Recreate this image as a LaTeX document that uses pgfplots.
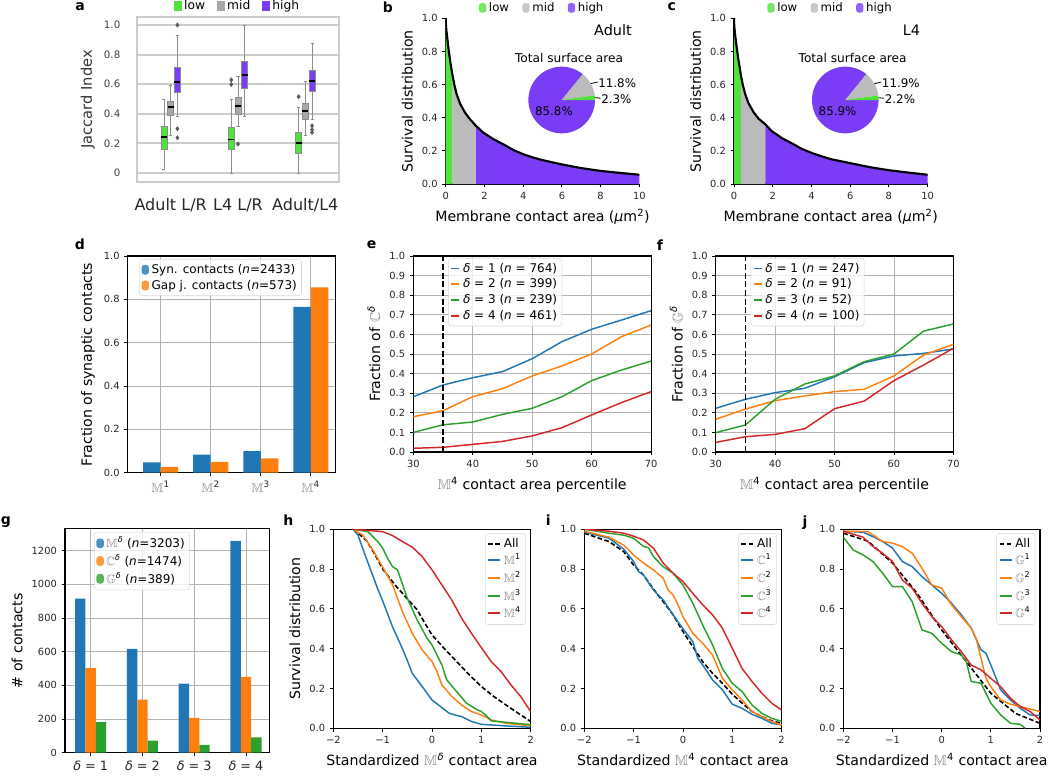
\documentclass[border=0pt]{standalone}
\usepackage{amssymb}
\usepackage{fontspec}
\setmainfont{DejaVu Sans}
\usepackage{pgfplots}
\pgfplotsset{compat=1.18}
\usepgfplotslibrary{statistics}

\definecolor{lowc}{RGB}{78,228,60}
\definecolor{midc}{RGB}{187,187,187}
\definecolor{midca}{RGB}{168,168,168}
\definecolor{highc}{RGB}{123,60,245}
\definecolor{tb}{RGB}{31,119,180}
\definecolor{to}{RGB}{255,127,14}
\definecolor{tg}{RGB}{44,160,44}
\definecolor{tr}{RGB}{214,39,40}

\newcommand{\bb}[1]{\textcolor{black!50}{$\mathbb{#1}$}}
\newcommand{\dl}{\textit{δ}}
\newcommand{\ticksz}{\fontsize{7.4}{8.5}\selectfont}
\newcommand{\labsz}{\fontsize{10.6}{12}\selectfont}
\newcommand{\legsz}{\fontsize{9}{10.5}\selectfont}
\newcommand{\panel}[3]{\node[font=\fontsize{10.5}{12}\selectfont\bfseries] at (#1*0.75pt,-#2*0.75pt) {#3};}

\pgfplotsset{
  sqleg/.style={legend image code/.code={\fill (0pt,-3.6pt) rectangle (5.5pt,3.6pt);}},
  lnleg/.style={legend image code/.code={\draw[line width=1.4pt] (0pt,0pt) -- (#1,0pt);}},
  mpl/.style={
    scale only axis, anchor=south west,
    tick align=outside, tick pos=left,
    major tick length=2.6pt,
    every tick/.style={black, line width=0.6pt},
    axis line style={line width=0.8pt},
    tick label style={font=\ticksz, text=black!85},
    label style={font=\labsz},
    /pgf/number format/assume math mode=true,
    legend style={font=\legsz, draw=black!15, rounded corners=2pt, fill=white, fill opacity=0.8, text opacity=1, inner sep=1.5pt, row sep=-0.5pt},
    legend cell align=left,
    grid style={black!30, line width=0.6pt},
  },
  yfix/.style={yticklabel style={/pgf/number format/.cd, fixed, fixed zerofill, precision=1}},
  bxs/.style={forget plot, mark=diamond*, mark size=1.5pt, mark options={fill=black!65, draw=black!65}, draw=black!45, line width=0.5pt, boxplot/every median/.style={black, line width=1.2pt}, boxplot/box extend=0.09, boxplot/whisker extend=0.045},
  bl/.style={bxs, boxplot/every box/.style={fill=lowc, draw=black!45}},
  bm/.style={bxs, boxplot/every box/.style={fill=midca, draw=black!45}},
  bh/.style={bxs, boxplot/every box/.style={fill=highc, draw=black!45}},
}

\newcommand{\pie}[5]{%
  \pgfmathsetmacro\aL{#3*3.6}\pgfmathsetmacro\aM{(#3+#4)*3.6}\pgfmathsetmacro\aLh{#3*1.8}\pgfmathsetmacro\aMh{(#3+#3+#4)*1.8}%
  \begin{scope}[shift={(#1*0.75pt,-#2*0.75pt)}]
    \fill[highc] (0,0) -- (\aM:25pt) arc[start angle=\aM, end angle=360, radius=25pt] -- cycle;
    \fill[midc] (0,0) -- (\aL:25pt) arc[start angle=\aL, end angle=\aM, radius=25pt] -- cycle;
    \fill[lowc] (0,0) -- (0:25pt) arc[start angle=0, end angle=\aL, radius=25pt] -- cycle;
    \draw[line width=0.6pt] (\aMh:25pt) -- (27pt,13.5pt);
    \draw[line width=0.6pt] (\aLh:25pt) -- (29.2pt,1.3pt);
    \node[anchor=west, inner sep=0pt, font=\fontsize{8.9}{10}\selectfont] at (27.3pt,12.8pt) {#4\%};
    \node[anchor=west, inner sep=0pt, font=\fontsize{8.9}{10}\selectfont] at (29.5pt,0.9pt) {#3\%};
    \node[font=\fontsize{8.9}{10}\selectfont] at (-5.8pt,-8.3pt) {#5\%};
    \node[font=\fontsize{9.1}{10}\selectfont] at (5.5pt,31.5pt) {Total surface area};
  \end{scope}}

\pgfplotstableread{
x y
0 1.0
0.01 0.96
0.03 0.93
0.05 0.91
0.1 0.86
0.15 0.81
0.22 0.75
0.3 0.69
0.36 0.65
0.45 0.595
0.57 0.54
0.74 0.485
1.0 0.43
1.26 0.39
1.57 0.35
1.94 0.31
2.5 0.268
3.0 0.238
3.5 0.205
4.0 0.18
4.5 0.16
5.0 0.144
6.0 0.118
7.0 0.096
8.0 0.079
9.0 0.067
10.0 0.056
}\survA

\pgfplotstableread{
x y
0 1.0
0.01 0.96
0.03 0.93
0.05 0.91
0.1 0.86
0.15 0.815
0.22 0.755
0.3 0.70
0.35 0.66
0.45 0.60
0.57 0.545
0.74 0.49
1.0 0.435
1.26 0.395
1.62 0.36
1.94 0.32
2.5 0.275
3.0 0.245
3.5 0.212
4.0 0.188
4.5 0.168
5.0 0.15
6.0 0.126
7.0 0.102
8.0 0.083
9.0 0.069
10.0 0.056
}\survB

\begin{document}
\begin{tikzpicture}
\useasboundingbox (0,0) rectangle (787.5pt,-584.25pt);

% ---------------- a ----------------
\begin{axis}[at={(102.75pt,-136.5pt)}, anchor=south west, scale only axis, width=151.5pt, height=123.75pt,
  xmin=-0.5, xmax=2.5, ymin=-0.061, ymax=1.054,
  xtick={0,1,2}, xticklabels={Adult L/R, L4 L/R, Adult/L4},
  ytick={0,0.2,0.4,0.6,0.8,1.0}, yticklabels={0,0.2,0.4,0.6,0.8,1.0},
  major tick length=0pt,
  axis line style={draw=black!20, line width=1.8pt},
  ymajorgrids, grid style={black!20, line width=1.4pt},
  xticklabel style={font=\fontsize{12}{13}\selectfont, text=black!85, yshift=-9pt},
  yticklabel style={font=\fontsize{7.7}{9}\selectfont, text=black!75, xshift=-9pt},
  ylabel={Jaccard Index}, ylabel style={font=\fontsize{11}{12}\selectfont, text=black!80},
  legend style={at={(0.5,1.0)}, anchor=south, draw=none, fill=none, legend columns=3, font=\fontsize{9.2}{10}\selectfont, /tikz/every even column/.append style={column sep=7pt}},
  sqleg, boxplot/draw direction=y]
\addlegendimage{fill=lowc, draw=none}\addlegendentry{low}
\addlegendimage{fill=midca, draw=none}\addlegendentry{mid}
\addlegendimage{fill=highc, draw=none}\addlegendentry{high}
% Adult L/R
\addplot[bl, boxplot prepared={draw position=-0.1, lower whisker=0.027, lower quartile=0.162, median=0.243, upper quartile=0.315, upper whisker=0.499}] coordinates {};
\addplot[bm, boxplot prepared={draw position=0, lower whisker=0.254, lower quartile=0.391, median=0.447, upper quartile=0.485, upper whisker=0.593}] coordinates {};
\addplot[bh, boxplot prepared={draw position=0.1, lower whisker=0.382, lower quartile=0.548, median=0.616, upper quartile=0.712, upper whisker=0.933}] table[row sep=\\, y index=0] {v\\ 1.0\\ 0.299\\ 0.238\\};
% L4 L/R
\addplot[bl, boxplot prepared={draw position=0.9, lower whisker=0, lower quartile=0.157, median=0.225, upper quartile=0.310, upper whisker=0.499}] table[row sep=\\, y index=0] {v\\ 0.629\\ 0.598\\};
\addplot[bm, boxplot prepared={draw position=1.0, lower whisker=0.315, lower quartile=0.393, median=0.454, upper quartile=0.512, upper whisker=0.654}] table[row sep=\\, y index=0] {v\\ 0.196\\};
\addplot[bh, boxplot prepared={draw position=1.1, lower whisker=0.382, lower quartile=0.573, median=0.661, upper quartile=0.753, upper whisker=1.0}] coordinates {};
% Adult/L4
\addplot[bl, boxplot prepared={draw position=1.9, lower whisker=0, lower quartile=0.130, median=0.202, upper quartile=0.276, upper whisker=0.445}] table[row sep=\\, y index=0] {v\\ 0.515\\};
\addplot[bm, boxplot prepared={draw position=2.0, lower whisker=0.252, lower quartile=0.360, median=0.418, upper quartile=0.474, upper whisker=0.622}] coordinates {};
\addplot[bh, boxplot prepared={draw position=2.1, lower whisker=0.364, lower quartile=0.555, median=0.622, upper quartile=0.697, upper whisker=0.876}] table[row sep=\\, y index=0] {v\\ 0.319\\ 0.292\\ 0.274\\};
\end{axis}

% ---------------- b ----------------
\begin{axis}[mpl, at={(334.3pt,-138pt)}, width=145.2pt, height=124.3pt,
  xmin=0, xmax=10, ymin=0, ymax=1,
  axis x line*=bottom, axis y line*=left, axis line style={-, line width=1.1pt},
  xtick={0,2,4,6,8,10}, ytick={0,0.2,0.4,0.6,0.8,1}, yfix,
  xlabel={Membrane contact area (\textit{μ}m\textsuperscript{2})}, ylabel={Survival distribution},
  legend style={at={(0.5,1.0)}, anchor=south, draw=none, fill=none, legend columns=3, font=\fontsize{8.8}{10}\selectfont, /tikz/every even column/.append style={column sep=8pt}},
  sqleg]
\addlegendimage{fill=lowc, draw=none}\addlegendentry{low}
\addlegendimage{fill=midc, draw=none}\addlegendentry{mid}
\addlegendimage{fill=highc, draw=none}\addlegendentry{high}
\addplot[fill=lowc, draw=none, forget plot, restrict x to domain=0:0.3601] table {\survA} \closedcycle;
\addplot[fill=midc, draw=none, forget plot, restrict x to domain=0.3599:1.5701] table {\survA} \closedcycle;
\addplot[fill=highc, draw=none, forget plot, restrict x to domain=1.5699:10] table {\survA} \closedcycle;
\addplot[black, line width=1.6pt, forget plot] table {\survA};
\node[anchor=north east, font=\fontsize{10.8}{12}\selectfont] at (rel axis cs:0.985,0.99) {Adult};
\end{axis}
\pie{561.7}{100}{2.3}{11.8}{85.8}

% ---------------- c ----------------
\begin{axis}[mpl, at={(550.5pt,-138pt)}, width=145.2pt, height=124.3pt,
  xmin=0, xmax=10, ymin=0, ymax=1,
  axis x line*=bottom, axis y line*=left, axis line style={-, line width=1.1pt},
  xtick={0,2,4,6,8,10}, ytick={0,0.2,0.4,0.6,0.8,1}, yfix,
  xlabel={Membrane contact area (\textit{μ}m\textsuperscript{2})}, ylabel={Survival distribution},
  legend style={at={(0.5,1.0)}, anchor=south, draw=none, fill=none, legend columns=3, font=\fontsize{8.8}{10}\selectfont, /tikz/every even column/.append style={column sep=8pt}},
  sqleg]
\addlegendimage{fill=lowc, draw=none}\addlegendentry{low}
\addlegendimage{fill=midc, draw=none}\addlegendentry{mid}
\addlegendimage{fill=highc, draw=none}\addlegendentry{high}
\addplot[fill=lowc, draw=none, forget plot, restrict x to domain=0:0.3501] table {\survB} \closedcycle;
\addplot[fill=midc, draw=none, forget plot, restrict x to domain=0.3499:1.6201] table {\survB} \closedcycle;
\addplot[fill=highc, draw=none, forget plot, restrict x to domain=1.6199:10] table {\survB} \closedcycle;
\addplot[black, line width=1.6pt, forget plot] table {\survB};
\node[anchor=north east, font=\fontsize{10.8}{12}\selectfont] at (rel axis cs:0.985,0.99) {L4};
\end{axis}
\pie{845.3}{100}{2.2}{11.9}{85.9}

% ---------------- d ----------------
\begin{axis}[mpl, at={(95.8pt,-354.5pt)}, width=155.5pt, height=162.5pt,
  xmin=-0.66, xmax=3.486, ymin=0, ymax=1,
  xtick={0,1,2,3}, xticklabels={{\bb{M}\textsuperscript{1}},{\bb{M}\textsuperscript{2}},{\bb{M}\textsuperscript{3}},{\bb{M}\textsuperscript{4}}},
  xticklabel style={font=\fontsize{9.5}{10}\selectfont},
  ytick={0,0.2,0.4,0.6,0.8,1}, yfix, grid=major,
  ylabel={Fraction of synaptic contacts},
  legend style={at={(0.056,0.985)}, anchor=north west}]
\addplot[ybar, bar width=0.35, bar shift=-0.175, fill=tb, draw=none, sqleg] coordinates {(0,0.048)(1,0.083)(2,0.100)(3,0.765)};
\addlegendentry{Syn. contacts (\textit{n}=2433)}
\addplot[ybar, bar width=0.35, bar shift=0.175, fill=to, draw=none, sqleg] coordinates {(0,0.027)(1,0.050)(2,0.066)(3,0.855)};
\addlegendentry{Gap j. contacts (\textit{n}=573)}
\end{axis}

% ---------------- e ----------------
\begin{axis}[mpl, at={(310pt,-339pt)}, width=178.3pt, height=147pt,
  xmin=30, xmax=70, ymin=0, ymax=1, xtick={30,40,50,60,70},
  ytick={0,0.1,0.2,0.3,0.4,0.5,0.6,0.7,0.8,0.9,1}, yfix, grid=major,
  xlabel={\bb{M}\textsuperscript{4} contact area percentile}, ylabel={Fraction of \bb{C}\textsuperscript{\dl}},
  legend style={at={(0.147,0.99)}, anchor=north west}, lnleg=6pt]
\addplot[tb, line width=1.1pt] coordinates {(30,0.282)(35,0.342)(40,0.379)(45,0.41)(50,0.476)(55,0.563)(60,0.626)(65,0.673)(70,0.721)};
\addlegendentry{\dl{} = 1 (\textit{n} = 764)}
\addplot[to, line width=1.1pt] coordinates {(30,0.18)(35,0.211)(40,0.282)(45,0.323)(50,0.388)(55,0.439)(60,0.5)(65,0.588)(70,0.648)};
\addlegendentry{\dl{} = 2 (\textit{n} = 399)}
\addplot[tg, line width=1.1pt] coordinates {(30,0.10)(35,0.139)(40,0.153)(45,0.192)(50,0.223)(55,0.282)(60,0.364)(65,0.418)(70,0.464)};
\addlegendentry{\dl{} = 3 (\textit{n} = 239)}
\addplot[tr, line width=1.1pt] coordinates {(30,0.019)(35,0.024)(40,0.039)(45,0.054)(50,0.082)(55,0.124)(60,0.189)(65,0.252)(70,0.308)};
\addlegendentry{\dl{} = 4 (\textit{n} = 461)}
\addplot[black, line width=1.2pt, dash pattern=on 4.5pt off 2pt, forget plot] coordinates {(35,0)(35,1)};
\end{axis}

% ---------------- f ----------------
\begin{axis}[mpl, at={(536.8pt,-339pt)}, width=178.2pt, height=147pt,
  xmin=30, xmax=70, ymin=0, ymax=1, xtick={30,40,50,60,70},
  ytick={0,0.1,0.2,0.3,0.4,0.5,0.6,0.7,0.8,0.9,1}, yfix, grid=major,
  xlabel={\bb{M}\textsuperscript{4} contact area percentile}, ylabel={Fraction of \bb{G}\textsuperscript{\dl}},
  legend style={at={(0.147,0.99)}, anchor=north west}, lnleg=6pt]
\addplot[tb, line width=1.1pt] coordinates {(30,0.223)(35,0.269)(40,0.303)(45,0.325)(50,0.384)(55,0.456)(60,0.49)(65,0.503)(70,0.526)};
\addlegendentry{\dl{} = 1 (\textit{n} = 247)}
\addplot[to, line width=1.1pt] coordinates {(30,0.167)(35,0.219)(40,0.262)(45,0.286)(50,0.308)(55,0.32)(60,0.388)(65,0.495)(70,0.549)};
\addlegendentry{\dl{} = 2 (\textit{n} = 91)}
\addplot[tg, line width=1.1pt] coordinates {(30,0.099)(35,0.138)(40,0.269)(45,0.347)(50,0.388)(55,0.461)(60,0.50)(65,0.617)(70,0.653)};
\addlegendentry{\dl{} = 3 (\textit{n} = 52)}
\addplot[tr, line width=1.1pt] coordinates {(30,0.049)(35,0.078)(40,0.09)(45,0.119)(50,0.221)(55,0.26)(60,0.364)(65,0.444)(70,0.529)};
\addlegendentry{\dl{} = 4 (\textit{n} = 100)}
\addplot[black, line width=1.2pt, dash pattern=on 4.5pt off 2pt, forget plot] coordinates {(35,0)(35,1)};
\end{axis}

% ---------------- g ----------------
\begin{axis}[mpl, at={(48.75pt,-564.5pt)}, width=153.2pt, height=167.8pt,
  xmin=-0.496, xmax=3.45, ymin=0, ymax=1329,
  xtick={0,1,2,3}, xticklabels={{\dl{} = 1},{\dl{} = 2},{\dl{} = 3},{\dl{} = 4}},
  xticklabel style={font=\fontsize{9.6}{10}\selectfont},
  ytick={0,200,400,600,800,1000,1200}, scaled y ticks=false,
  yticklabel style={/pgf/number format/1000 sep={}},
  grid=major, ylabel={\# of contacts},
  legend style={at={(0.143,0.987)}, anchor=north west}]
\addplot[ybar, bar width=0.2, bar shift=-0.2, fill=tb, draw=none, sqleg] coordinates {(0,915)(1,617)(2,410)(3,1258)};
\addlegendentry{\bb{M}\textsuperscript{\dl} (\textit{n}=3203)}
\addplot[ybar, bar width=0.2, bar shift=0, fill=to, draw=none, sqleg] coordinates {(0,502)(1,315)(2,207)(3,450)};
\addlegendentry{\bb{C}\textsuperscript{\dl} (\textit{n}=1474)}
\addplot[ybar, bar width=0.2, bar shift=0.2, fill=tg, draw=none, sqleg] coordinates {(0,181)(1,71)(2,46)(3,91)};
\addlegendentry{\bb{G}\textsuperscript{\dl} (\textit{n}=389)}
\end{axis}

% ---------------- h ----------------
\begin{axis}[mpl, at={(250pt,-546.2pt)}, width=148pt, height=149.3pt,
  xmin=-2, xmax=2, ymin=0, ymax=1, xtick={-2,-1,0,1,2}, xticklabels={−2,−1,0,1,2},
  ytick={0,0.2,0.4,0.6,0.8,1}, yfix,
  xlabel={Standardized \bb{M}\textsuperscript{\dl} contact area}, ylabel={Survival distribution},
  legend style={at={(0.976,0.98)}, anchor=north east}, lnleg=9pt]
\addplot[black, line width=1.2pt, dash pattern=on 3.5pt off 1.8pt] coordinates {(-1.6,1.0)(-1.45,0.97)(-1.32,0.94)(-1.15,0.87)(-1,0.80)(-0.75,0.72)(-0.5,0.65)(-0.3,0.595)(-0.15,0.53)(0,0.469)(0.25,0.4)(0.5,0.335)(0.75,0.27)(1.0,0.21)(1.25,0.16)(1.5,0.117)(1.75,0.075)(2,0.034)};
\addlegendentry{All}
\addplot[tb, line width=1.1pt] coordinates {(-1.6,1.0)(-1.5,0.97)(-1.4,0.9)(-1.25,0.8)(-1.1,0.7)(-1,0.64)(-0.8,0.51)(-0.6,0.4)(-0.5,0.34)(-0.4,0.276)(-0.2,0.21)(0,0.142)(0.2,0.104)(0.35,0.075)(0.5,0.065)(0.6,0.059)(0.8,0.034)(1.0,0.02)(1.5,0.012)(2,0.005)};
\addlegendentry{\bb{M}\textsuperscript{1}}
\addplot[to, line width=1.1pt] coordinates {(-1.6,1)(-1.4,0.97)(-1.2,0.896)(-1.0,0.81)(-0.8,0.72)(-0.6,0.586)(-0.4,0.477)(-0.2,0.394)(0,0.335)(0.1,0.285)(0.2,0.218)(0.4,0.16)(0.6,0.117)(0.8,0.084)(1.0,0.067)(1.2,0.042)(1.5,0.025)(2,0.013)};
\addlegendentry{\bb{M}\textsuperscript{2}}
\addplot[tg, line width=1.1pt] coordinates {(-1.6,1)(-1.3,0.988)(-1.1,0.938)(-1.0,0.905)(-0.9,0.854)(-0.8,0.812)(-0.7,0.796)(-0.5,0.653)(-0.3,0.544)(-0.1,0.452)(0,0.419)(0.2,0.318)(0.3,0.243)(0.5,0.184)(0.7,0.126)(0.9,0.095)(1.0,0.084)(1.1,0.064)(1.2,0.037)(1.5,0.03)(2,0.018)};
\addlegendentry{\bb{M}\textsuperscript{3}}
\addplot[tr, line width=1.1pt] coordinates {(-1.6,1)(-1.0,0.988)(-0.8,0.968)(-0.6,0.938)(-0.4,0.91)(-0.2,0.863)(0,0.796)(0.2,0.72)(0.4,0.645)(0.6,0.553)(0.8,0.477)(1.0,0.405)(1.2,0.335)(1.4,0.285)(1.6,0.218)(1.8,0.159)(2,0.084)};
\addlegendentry{\bb{M}\textsuperscript{4}}
\end{axis}

% ---------------- i ----------------
\begin{axis}[mpl, at={(438.2pt,-546.2pt)}, width=148pt, height=149.3pt,
  xmin=-2, xmax=2, ymin=0, ymax=1, xtick={-2,-1,0,1,2}, xticklabels={−2,−1,0,1,2},
  ytick={0,0.2,0.4,0.6,0.8,1}, yfix,
  xlabel={Standardized \bb{M}\textsuperscript{4} contact area},
  legend style={at={(0.976,0.98)}, anchor=north east}, lnleg=9pt]
\addplot[black, line width=1.2pt, dash pattern=on 3.5pt off 1.8pt] coordinates {(-2,0.98)(-1.5,0.938)(-1.2,0.888)(-1.0,0.82)(-0.8,0.77)(-0.6,0.70)(-0.4,0.636)(-0.2,0.57)(0,0.486)(0.2,0.41)(0.4,0.335)(0.6,0.276)(0.8,0.226)(1.0,0.171)(1.2,0.126)(1.4,0.084)(1.6,0.059)(1.8,0.037)(2,0.025)};
\addlegendentry{All}
\addplot[tb, line width=1.1pt] coordinates {(-2,0.985)(-1.5,0.955)(-1.2,0.9)(-1.0,0.838)(-0.9,0.787)(-0.8,0.77)(-0.6,0.695)(-0.4,0.645)(-0.2,0.57)(0,0.5)(0.2,0.435)(0.3,0.352)(0.4,0.318)(0.6,0.243)(0.8,0.193)(1.0,0.121)(1.2,0.1)(1.4,0.07)(1.6,0.05)(1.8,0.025)(2,0.017)};
\addlegendentry{\bb{C}\textsuperscript{1}}
\addplot[to, line width=1.1pt] coordinates {(-2,0.99)(-1.5,0.96)(-1.2,0.92)(-1.0,0.87)(-0.8,0.83)(-0.6,0.796)(-0.4,0.754)(-0.3,0.695)(-0.2,0.67)(-0.1,0.62)(0,0.561)(0.2,0.477)(0.4,0.427)(0.6,0.368)(0.7,0.31)(0.8,0.251)(1.0,0.193)(1.2,0.142)(1.4,0.084)(1.6,0.059)(1.8,0.034)(2,0.017)};
\addlegendentry{\bb{C}\textsuperscript{2}}
\addplot[tg, line width=1.1pt] coordinates {(-2,1.0)(-1.5,0.98)(-1.2,0.97)(-1.0,0.955)(-0.8,0.913)(-0.7,0.908)(-0.6,0.863)(-0.4,0.812)(-0.2,0.779)(0,0.72)(0.2,0.628)(0.4,0.519)(0.6,0.419)(0.8,0.30)(1.0,0.226)(1.2,0.184)(1.4,0.117)(1.6,0.075)(1.8,0.05)(2,0.035)};
\addlegendentry{\bb{C}\textsuperscript{3}}
\addplot[tr, line width=1.1pt] coordinates {(-2,1.0)(-1.5,0.99)(-1.2,0.98)(-1.0,0.965)(-0.8,0.946)(-0.6,0.905)(-0.4,0.83)(-0.2,0.779)(0,0.737)(0.2,0.678)(0.4,0.62)(0.6,0.57)(0.8,0.503)(1.0,0.402)(1.2,0.30)(1.4,0.235)(1.6,0.176)(1.8,0.126)(2,0.092)};
\addlegendentry{\bb{C}\textsuperscript{4}}
\end{axis}

% ---------------- j ----------------
\begin{axis}[mpl, at={(632.5pt,-546.2pt)}, width=147.5pt, height=149.3pt,
  xmin=-2, xmax=2, ymin=0, ymax=1, xtick={-2,-1,0,1,2}, xticklabels={−2,−1,0,1,2},
  ytick={0,0.2,0.4,0.6,0.8,1}, yfix,
  xlabel={Standardized \bb{M}\textsuperscript{4} contact area},
  legend style={at={(0.976,0.98)}, anchor=north east}, lnleg=9pt]
\addplot[black, line width=1.2pt, dash pattern=on 3.5pt off 1.8pt] coordinates {(-2,0.98)(-1.5,0.94)(-1.0,0.83)(-0.5,0.678)(0,0.494)(0.5,0.335)(1.0,0.176)(1.5,0.075)(2,0.025)};
\addlegendentry{All}
\addplot[tb, line width=1.1pt] coordinates {(-2,0.99)(-1.6,0.985)(-1.4,0.963)(-1.2,0.938)(-1.0,0.905)(-0.8,0.838)(-0.6,0.812)(-0.4,0.762)(-0.2,0.72)(0,0.678)(0.2,0.628)(0.4,0.57)(0.6,0.503)(0.8,0.394)(0.9,0.377)(1.0,0.318)(1.2,0.193)(1.4,0.142)(1.6,0.10)(1.8,0.067)(2,0.064)};
\addlegendentry{\bb{G}\textsuperscript{1}}
\addplot[to, line width=1.1pt] coordinates {(-2,0.99)(-1.5,0.988)(-1.2,0.938)(-1.0,0.93)(-0.8,0.913)(-0.6,0.879)(-0.4,0.804)(-0.2,0.72)(0,0.704)(0.2,0.62)(0.4,0.561)(0.6,0.503)(0.7,0.452)(0.8,0.352)(0.9,0.251)(1.0,0.209)(1.2,0.142)(1.4,0.121)(1.6,0.109)(1.8,0.097)(2,0.084)};
\addlegendentry{\bb{G}\textsuperscript{2}}
\addplot[tg, line width=1.1pt] coordinates {(-2,0.96)(-1.8,0.896)(-1.6,0.871)(-1.4,0.838)(-1.2,0.779)(-1.0,0.712)(-0.8,0.712)(-0.6,0.636)(-0.4,0.494)(-0.2,0.477)(0,0.427)(0.2,0.385)(0.4,0.368)(0.5,0.335)(0.6,0.235)(0.8,0.226)(1.0,0.126)(1.2,0.067)(1.4,0.025)(1.6,0.02)(1.7,0.0)};
\addlegendentry{\bb{G}\textsuperscript{3}}
\addplot[tr, line width=1.1pt] coordinates {(-2,0.99)(-1.6,0.96)(-1.4,0.913)(-1.2,0.879)(-1.0,0.838)(-0.8,0.745)(-0.6,0.704)(-0.4,0.628)(-0.2,0.561)(0,0.511)(0.2,0.444)(0.4,0.385)(0.6,0.318)(0.8,0.293)(1.0,0.251)(1.2,0.209)(1.4,0.151)(1.6,0.109)(1.8,0.084)(2,0.042)};
\addlegendentry{\bb{G}\textsuperscript{4}}
\end{axis}

% panel letters
\panel{80}{7}{a}
\panel{388}{7}{b}
\panel{671.7}{7}{c}
\panel{80}{244}{d}
\panel{371.7}{245}{e}
\panel{660}{245}{f}
\panel{6}{521.7}{g}
\panel{288.3}{520}{h}
\panel{548.3}{520}{i}
\panel{805}{523}{j}
\end{tikzpicture}
\end{document}
